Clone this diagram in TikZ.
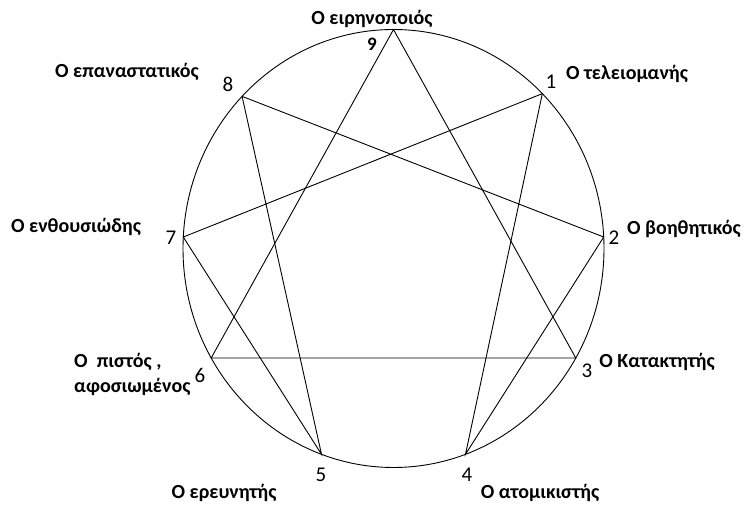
\documentclass[tikz,border=0pt]{standalone}
\usepackage{fontspec}
\setmainfont{Carlito}
\usetikzlibrary{calc}
\tikzset{
  typename/.style={font=\fontsize{20}{25}\selectfont\bfseries, inner sep=0pt},
  typenum/.style={font=\fontsize{21}{24}\selectfont, inner sep=0pt},
  enneaedge/.style={line width=0.9pt}
}
\begin{document}
\begin{tikzpicture}[x=1pt, y=1pt]
  \useasboundingbox (0,0) rectangle (745,505);
  \coordinate (c) at (393.5,256.5);
  \draw[enneaedge] (c) ellipse [x radius=210.5, y radius=219];
  % points on the ellipse
  \foreach \n/\a in {9/90, 1/45, 2/3, 3/-30, 4/-70, 5/-110, 6/-150, 7/177, 8/136} {
    \coordinate (p\n) at ($(c)+(\a:210.5pt and 219pt)$);
  }
  \draw[enneaedge] (p9) -- (p3) -- (p6) -- cycle;
  \draw[enneaedge] (p1) -- (p4) -- (p2) -- (p8) -- (p5) -- (p7) -- cycle;
  % numbers
  \node[typenum, font=\fontsize{19}{22}\selectfont\bfseries] (n9) at (372,461) {9};
  \node[typenum] (n1) at (551,423) {1};
  \node[typenum] (n2) at (614,267) {2};
  \node[typenum] (n3) at (587,134) {3};
  \node[typenum] (n4) at (467,30) {4};
  \node[typenum] (n5) at (321,30) {5};
  \node[typenum] (n6) at (200,130) {6};
  \node[typenum] (n7) at (171,267) {7};
  \node[typenum] (n8) at (228,421) {8};
  % names
  \node[typename] (t9) at (372,486) {Ο ειρηνοποιός};
  \node[typename] (t1) at (627,431) {Ο τελειομανής};
  \node[typename] (t2) at (684,276) {Ο βοηθητικός};
  \node[typename] (t3) at (657,143) {Ο Κατακτητής};
  \node[typename] (t4) at (540,12) {Ο ατομικιστής};
  \node[typename] (t5) at (224,12) {Ο ερευνητής};
  \node[typename, anchor=west, align=left] (t6) at (74,131) {Ο \ πιστός ,\\αφοσιωμένος};
  \node[typename] (t7) at (76,278) {Ο ενθουσιώδης};
  \node[typename] (t8) at (127,433) {Ο επαναστατικός};
\end{tikzpicture}
\end{document}
